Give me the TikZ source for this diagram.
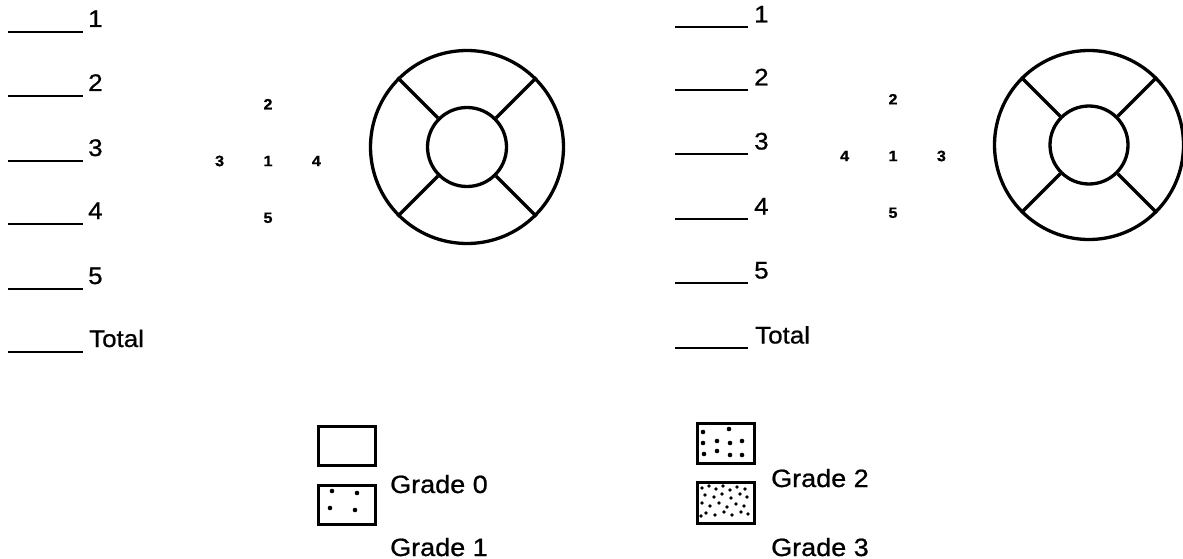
\documentclass[tikz,border=0pt]{standalone}
\usepackage{fontspec}
\setmainfont{Liberation Sans}[FakeStretch=1.08,FakeBold=0.8]
\usepackage{tikz}
\usetikzlibrary{positioning}

\begin{document}
\begin{tikzpicture}[
  x=1pt, y=-1pt,
  node distance=46pt and 39pt,
  blank/.style={line width=2.3pt},
  entry/.style={anchor=base west, inner sep=0pt, font=\fontsize{24}{28}\selectfont},
  site/.style={inner sep=0pt, font=\fontsize{15}{17}\selectfont\bfseries},
  ring/.style={draw, circle, line width=3.3pt, inner sep=0pt},
  spoke/.style={line width=3.3pt},
  swatch/.style={draw, line width=2.8pt, anchor=north west, inner sep=0pt,
    minimum width=57pt, minimum height=39pt},
  grade/.style={anchor=base west, inner sep=0pt, font=\fontsize{25}{30}\selectfont},
  dot/.style={fill, circle, inner sep=0pt, minimum size=4.6pt}
]
\useasboundingbox (0,0) rectangle (1183,559);

% left chart: score sheet
\draw[blank] (8,32) -- (83,32);
\node[entry] (la) at (88,27) {1};
\draw[blank] (8,96) -- (83,96);
\node[entry] (lb) at (88,91) {2};
\draw[blank] (8,161) -- (83,161);
\node[entry] (lc) at (88,156) {3};
\draw[blank] (8,224) -- (83,224);
\node[entry] (ld) at (88,219) {4};
\draw[blank] (8,289) -- (83,289);
\node[entry] (le) at (88,284) {5};
\draw[blank] (8,352) -- (83,352);
\node[entry] (ltotal) at (89,347) {Total};

% left chart: site numbers
\node[site] (lsite1) at (268,161) {1};
\node[site,above=of lsite1] (lsite2) {2};
\node[site,below=of lsite1] (lsite5) {5};
\node[site,left=of lsite1] (lsite3) {3};
\node[site,right=of lsite1] (lsite4) {4};

% left chart: ring
\node[ring, minimum size=193pt] (lring) at (467,147) {};
\node[ring, minimum size=79pt] (lhub) at (lring.center) {};
\draw[spoke] (lhub.45) -- (lring.45);
\draw[spoke] (lhub.135) -- (lring.135);
\draw[spoke] (lhub.225) -- (lring.225);
\draw[spoke] (lhub.315) -- (lring.315);

% right chart: score sheet
\draw[blank] (675,27) -- (748,27);
\node[entry] (ra) at (754,22.5) {1};
\draw[blank] (675,90) -- (748,90);
\node[entry] (rb) at (754,85.5) {2};
\draw[blank] (675,154) -- (748,154);
\node[entry] (rc) at (754,149.5) {3};
\draw[blank] (675,219) -- (748,219);
\node[entry] (rd) at (754,214.5) {4};
\draw[blank] (675,283) -- (748,283);
\node[entry] (re) at (754,278.5) {5};
\draw[blank] (675,348) -- (748,348);
\node[entry] (rtotal) at (755,343.5) {Total};

% right chart: site numbers
\node[site] (rsite1) at (893,156) {1};
\node[site,above=of rsite1] (rsite2) {2};
\node[site,below=of rsite1] (rsite5) {5};
\node[site,left=of rsite1] (rsite4) {4};
\node[site,right=of rsite1] (rsite3) {3};

% right chart: ring
\node[ring, minimum size=189pt] (rring) at (1089,145) {};
\node[ring, minimum size=78pt] (rhub) at (rring.center) {};
\draw[spoke] (rhub.45) -- (rring.45);
\draw[spoke] (rhub.135) -- (rring.135);
\draw[spoke] (rhub.225) -- (rring.225);
\draw[spoke] (rhub.315) -- (rring.315);

% legend
\node[swatch] (g0) at (317,425) {};
\node[swatch] (g1) at (317,484) {};
\node[grade] (g0text) at (390,493) {Grade 0};
\node[grade] (g1text) at (390,556) {Grade 1};
\begin{scope}[shift={(g1.north west)}]
  \foreach \p in {(15,7),(40,9),(13,24),(38,26)}
    \node[dot] at \p {};
\end{scope}

\node[swatch, minimum height=40pt] (g2) at (696,422) {};
\node[swatch, minimum height=41pt] (g3) at (696,481) {};
\node[grade] (g2text) at (771,487) {Grade 2};
\node[grade] (g3text) at (771,556) {Grade 3};
\begin{scope}[shift={(g2.north west)}]
  \foreach \p in {(7,10),(33,7),(7,21),(21,19),(34,21),(46,19),
                  (8,32),(21,29),(34,33),(46,33)}
    \node[dot] at \p {};
\end{scope}
\begin{scope}[shift={(g3.north west)}]
  \foreach \p in {(6,7),(13,5),(20,8),(27,5),(34,9),(41,6),(49,8),
                  (9,14),(18,16),(26,13),(35,17),(44,13),(51,16),
                  (6,22),(14,25),(23,22),(31,26),(40,23),(48,25),
                  (10,32),(19,34),(28,31),(36,34),(45,31),(52,33),(5,35)}
    \node[dot, minimum size=3.8pt] at \p {};
\end{scope}
\end{tikzpicture}
\end{document}
